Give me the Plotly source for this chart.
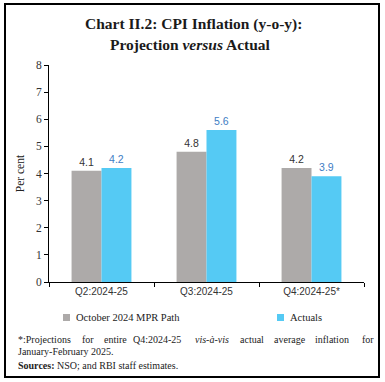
import plotly.graph_objects as go

categories = ["Q2:2024-25", "Q3:2024-25", "Q4:2024-25*"]
projection = [4.1, 4.8, 4.2]
actuals = [4.2, 5.6, 3.9]
series_names = ["October 2024 MPR Path", "Actuals"]
y_ticks = [0, 1, 2, 3, 4, 5, 6, 7, 8]

W, H = 385, 382
L, R, T, B = 49, 364, 65, 282  # plot area in px

def px(x):
    return (x - L) / (R - L)

def py(y):
    return (B - y) / (B - T)

GRAY = "#ADAAA9"
BLUE = "#55CAF4"
SERIF = "Liberation Serif"
SANS = "Liberation Sans"

fig = go.Figure()
fig.add_trace(go.Bar(
    x=categories, y=projection, name=series_names[0],
    marker=dict(color=GRAY, line=dict(width=0)),
    text=[f"{v:.1f}" for v in projection], textposition="outside",
    textfont=dict(family=SANS, size=10.5, color="#333333"),
    cliponaxis=False, showlegend=False,
))
fig.add_trace(go.Bar(
    x=categories, y=actuals, name=series_names[1],
    marker=dict(color=BLUE, line=dict(width=0)),
    text=[f"{v:.1f}" for v in actuals], textposition="outside",
    textfont=dict(family=SANS, size=10.5, color="#3E7DC4"),
    cliponaxis=False, showlegend=False,
))

fig.update_layout(
    width=W, height=H,
    margin=dict(l=L, r=W - R, t=T, b=H - B, pad=0),
    paper_bgcolor="white", plot_bgcolor="white",
    barmode="group", bargap=0.43, bargroupgap=0,
    font=dict(family=SERIF, size=11, color="#222222"),
)
fig.update_xaxes(
    showline=True, linecolor="black", linewidth=1,
    ticks="outside", tickson="boundaries", ticklen=4, tickcolor="black",
    tickfont=dict(family=SANS, size=10, color="#333333"),
    showgrid=False, zeroline=False,
)
fig.update_yaxes(
    range=[0, 8], tickvals=y_ticks,
    showline=True, linecolor="black", linewidth=1,
    ticks="outside", ticklen=4, tickcolor="black",
    tickfont=dict(family=SERIF, size=11.5, color="#333333"),
    showgrid=False, zeroline=False,
    title=dict(text="Per cent", font=dict(family=SERIF, size=11.5, color="#222222"), standoff=8),
)

shapes = [
    dict(type="rect", xref="paper", yref="paper",
         x0=px(5), x1=px(379), y0=py(377), y1=py(4),
         line=dict(color="black", width=2), fillcolor="rgba(0,0,0,0)", layer="above"),
    dict(type="rect", xref="paper", yref="paper",
         x0=px(63), x1=px(70), y0=py(321), y1=py(314),
         line=dict(width=0), fillcolor=GRAY),
    dict(type="rect", xref="paper", yref="paper",
         x0=px(277), x1=px(284), y0=py(321), y1=py(314),
         line=dict(width=0), fillcolor=BLUE),
]

ann = []
def add_text(text, x, y, size=10, anchor="left", family=SERIF, color="#222222"):
    ann.append(dict(text=text, xref="paper", yref="paper", x=px(x), y=py(y),
                    xanchor=anchor, yanchor="middle", showarrow=False,
                    font=dict(family=family, size=size, color=color)))

add_text("<b>Chart II.2: CPI Inflation (y-o-y):</b>", 193, 24, size=15.5, anchor="center", color="#1a1a1a")
add_text("<b>Projection <i>versus</i> Actual</b>", 190, 44, size=15.5, anchor="center", color="#1a1a1a")
add_text(series_names[0], 74, 317, size=10.5)
add_text(series_names[1], 288, 317, size=10.5)

foot_words = ["*:Projections", "for", "entire", "Q4:2024-25", "<i>vis-à-vis</i>",
              "actual", "average", "inflation", "for"]
foot_x = [16, 80, 102, 131, 193, 238, 272, 313, 360]
for w, x in zip(foot_words, foot_x):
    add_text(w, x, 339)
add_text("January-February 2025.", 16, 351)
add_text("<b>Sources:</b> NSO; and RBI staff estimates.", 16, 365)

fig.update_layout(shapes=shapes, annotations=ann)
fig.write_html("out.html", config={"displayModeBar": False},
               post_script="document.body.style.margin='0';document.body.style.overflow='hidden';")
